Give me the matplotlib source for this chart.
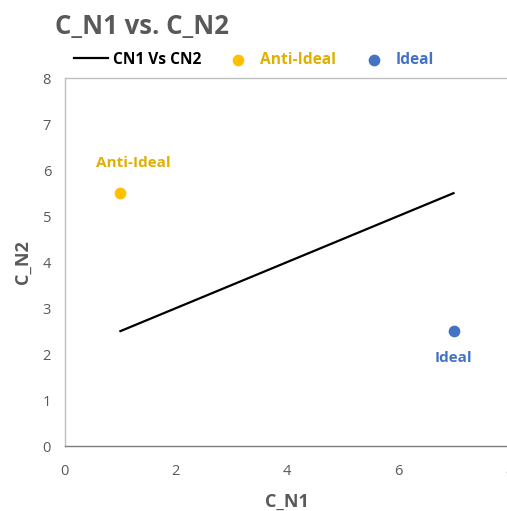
import matplotlib.pyplot as plt

plt.rcParams['font.family'] = ['Open Sans', 'DejaVu Sans']

# line series and the two reference points
line_x = [1, 7]
line_y = [2.5, 5.5]
anti_ideal = (1, 5.5)
ideal = (7, 2.5)

x_ticks = [0, 2, 4, 6, 8]
y_ticks = [0, 1, 2, 3, 4, 5, 6, 7, 8]

GRAY = "#595959"
ORANGE = "#FFC000"
BLUE = "#4472C4"

fig = plt.figure(figsize=(5.07, 5.11), dpi=100)
ax = fig.add_axes([0.128, 0.127, 0.876, 0.72])

ax.plot(line_x, line_y, color="black", linewidth=1.6, label="CN1 Vs CN2")
ax.scatter([anti_ideal[0]], [anti_ideal[1]], color=ORANGE, s=55, zorder=3, label="Anti-Ideal")
ax.scatter([ideal[0]], [ideal[1]], color=BLUE, s=55, zorder=3, label="Ideal")

ax.annotate("Anti-Ideal", anti_ideal, xytext=(9, 22), textcoords="offset points",
            ha="center", va="center", color="#E0B000", fontsize=11, fontweight="bold")
ax.annotate("Ideal", ideal, xytext=(0, -19), textcoords="offset points",
            ha="center", va="center", color=BLUE, fontsize=11, fontweight="bold")

ax.set_xlim(0, 8)
ax.set_ylim(0, 8)
ax.set_xticks(x_ticks)
ax.set_yticks(y_ticks)
ax.tick_params(length=0, labelsize=10.5, labelcolor=GRAY, pad=10)
ax.tick_params(axis="x", pad=13)

for side in ("left", "bottom", "top"):
    ax.spines[side].set_color("#BFBFBF")
    ax.spines[side].set_linewidth(1.0)
ax.spines["bottom"].set_color("#7F7F7F")
ax.spines["right"].set_visible(False)

ax.set_xlabel("C_N1", fontsize=13, fontweight="bold", color=GRAY, labelpad=10)
ax.set_ylabel("C_N2", fontsize=13, fontweight="bold", color=GRAY, labelpad=8)

fig.text(0.108, 0.949, "C_N1 vs. C_N2", fontsize=18.5, fontweight="bold", color=GRAY,
         ha="left", va="center")

leg = fig.legend(loc="center left", bbox_to_anchor=(0.118, 0.883), ncol=3, frameon=False,
                 fontsize=11.2, handlelength=2.2, handletextpad=0.3, columnspacing=1.3)
for txt, col in zip(leg.get_texts(), ["black", "#E0B000", BLUE]):
    txt.set_color(col)
    txt.set_fontweight("bold")

fig.savefig("out.png", dpi=100)
